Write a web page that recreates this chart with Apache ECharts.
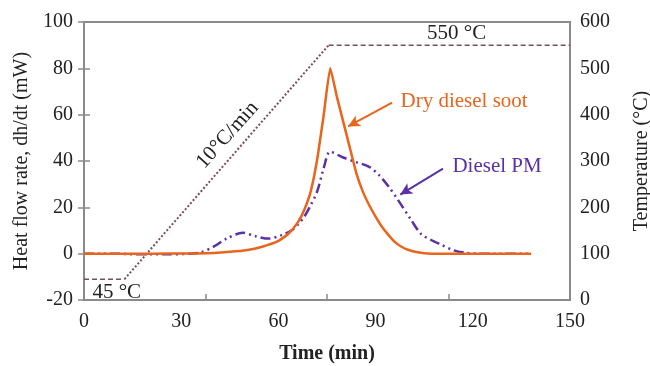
<!DOCTYPE html>
<html><head><meta charset="utf-8">
<script src="https://cdn.jsdelivr.net/npm/echarts@6/dist/echarts.min.js"></script>
<style>html,body{margin:0;padding:0;background:#fff}#c{width:650px;height:366px}</style>
</head><body><div id="c"></div>
<script>
// Data (time in min, heat flow in mW, temperature in °C)
const soot = [[0,0],[20,0],[35,0.1],[40,0.3],[45,0.8],[50,1.5],[55,3],[60,5.5],[63,8.5],[66,13.5],[68,19],[70,27],[72,41],[74,60],[76,80],[78,68],[80,57],[82,46],[84,35],[86,27],[88,21],[90,16],[92,11.5],[94,8],[96,5],[98,3],[100,1.7],[103,0.6],[106,0.1],[110,0],[138,0]];
const pm = [[0,0],[10,0],[15,-0.3],[25,-0.3],[33,0],[36,0.5],[40,3],[44,6.5],[49,9],[53,7.5],[57,6.5],[61,8],[64,10],[66,12.5],[68,16],[70,21],[72,27],[74,37],[76,44],[80,41.5],[84,39.5],[88,37.5],[91,34],[94,29],[97,23],[101,14.5],[104,8.5],[107,6],[110,4],[114,1.5],[118,0.3],[122,0],[138,0]];
const tempFlatLow = [[0,45],[12.5,45]];
const tempRamp = [[12.5,45],[75.5,550]];
const tempFlatHigh = [[75.5,550],[150,550]];
const xTickLabels = [0,30,60,90,120,150];
const arrowSoot = [[95.1,65.2],[81.5,54.9]];
const arrowPM = [[110.8,36.7],[97.6,25.5]];

const FONT = 'Liberation Serif';
const axisGray = '#8a8a8a';
const chart = echarts.init(document.getElementById('c'));
chart.setOption({
  animation:false,
  backgroundColor:'#fff',
  grid:{left:84,right:80,top:22,bottom:66,containLabel:false,outerBoundsMode:'none',show:true,borderColor:axisGray,borderWidth:2,backgroundColor:'transparent'},
  xAxis:[{
    type:'value',min:xTickLabels[0],max:xTickLabels[xTickLabels.length-1],interval:30,
    name:'Time (min)',nameLocation:'middle',nameGap:44,
    nameTextStyle:{fontFamily:FONT,fontSize:20,fontWeight:'bold',color:'#222'},
    axisLine:{show:true,onZero:false,lineStyle:{color:axisGray,width:2}},
    axisTick:{show:false},splitLine:{show:false},
    axisLabel:{fontFamily:FONT,fontSize:20,color:'#222',margin:12}
  },{
    type:'value',min:0,max:150,interval:37.5,position:'bottom',
    axisLine:{show:false,onZero:false},axisLabel:{show:false},splitLine:{show:false},
    axisTick:{show:true,inside:true,length:6,lineStyle:{color:axisGray,width:1.5}}
  }],
  yAxis:[{
    type:'value',min:-20,max:100,interval:20,
    name:'Heat flow rate, dh/dt (mW)',nameLocation:'middle',nameGap:52,
    nameTextStyle:{fontFamily:FONT,fontSize:20,color:'#222'},
    axisLine:{show:true,lineStyle:{color:axisGray,width:2}},
    axisTick:{show:true,inside:true,length:6,lineStyle:{color:axisGray,width:1.5}},
    splitLine:{show:false},
    axisLabel:{fontFamily:FONT,fontSize:20,color:'#222',margin:11}
  },{
    type:'value',min:0,max:600,interval:100,position:'right',
    name:'Temperature (°C)',nameLocation:'middle',nameGap:62,nameRotate:90,
    nameTextStyle:{fontFamily:FONT,fontSize:20,color:'#222'},
    axisLine:{show:true,lineStyle:{color:axisGray,width:2}},
    axisTick:{show:true,inside:true,length:6,lineStyle:{color:axisGray,width:1.5}},
    splitLine:{show:false},
    axisLabel:{fontFamily:FONT,fontSize:20,color:'#222',margin:10}
  }],
  series:[
    {type:'line',yAxisIndex:1,data:tempFlatLow,symbol:'none',lineStyle:{color:'#7b4b5f',width:1.5,type:[5,3]}},
    {type:'line',yAxisIndex:1,data:tempRamp,symbol:'none',lineStyle:{color:'#7b4b5f',width:2,type:[2,2]}},
    {type:'line',yAxisIndex:1,data:tempFlatHigh,symbol:'none',lineStyle:{color:'#7b4b5f',width:1.5,type:[5,3]}},
    {type:'line',data:pm,symbol:'none',smooth:0.3,lineStyle:{color:'#5a30a8',width:2.5,type:[10,4,2,4,2,4]},z:3,
      markLine:{silent:true,symbol:['none','arrow'],symbolSize:[9,12],label:{show:false},
        lineStyle:{color:'#5a30a8',width:2,type:'solid'},
        data:[[{coord:arrowPM[0]},{coord:arrowPM[1]}]]}},
    {type:'line',data:soot,symbol:'none',smooth:0.15,lineStyle:{color:'#e9641c',width:2.5},z:4,
      markLine:{silent:true,symbol:['none','arrow'],symbolSize:[9,12],label:{show:false},
        lineStyle:{color:'#e9641c',width:2,type:'solid'},
        data:[[{coord:arrowSoot[0]},{coord:arrowSoot[1]}]]}}
  ]
});
const p = (x,y)=>chart.convertToPixel({gridIndex:0},[x,y]);
const pt = (x,y)=>chart.convertToPixel({xAxisIndex:0,yAxisIndex:1},[x,y]);
const sootTxt = p(97.7,65.7);
const pmTxt = p(113.7,37.6);
const t550 = pt(115,576);
const t45 = pt(2.6,17);
const tRate = pt(44.3,356);
chart.setOption({graphic:[
  {type:'text',x:sootTxt[0],y:sootTxt[1],style:{text:'Dry diesel soot',fontFamily:FONT,fontSize:21,fill:'#e9641c',textVerticalAlign:'middle'}},
  {type:'text',x:pmTxt[0],y:pmTxt[1],style:{text:'Diesel PM',fontFamily:FONT,fontSize:21,fill:'#5a30a8',textVerticalAlign:'middle'}},
  {type:'text',x:t550[0],y:t550[1],style:{text:'550 °C',fontFamily:FONT,fontSize:21,fill:'#222',textAlign:'center',textVerticalAlign:'middle'}},
  {type:'text',x:t45[0],y:t45[1],style:{text:'45 °C',fontFamily:FONT,fontSize:21,fill:'#222',textVerticalAlign:'middle'}},
  {type:'text',x:tRate[0],y:tRate[1],rotation:48*Math.PI/180,style:{text:'10°C/min',fontFamily:FONT,fontSize:21,fill:'#222',textAlign:'center',textVerticalAlign:'middle'}}
]});
</script></body></html>
